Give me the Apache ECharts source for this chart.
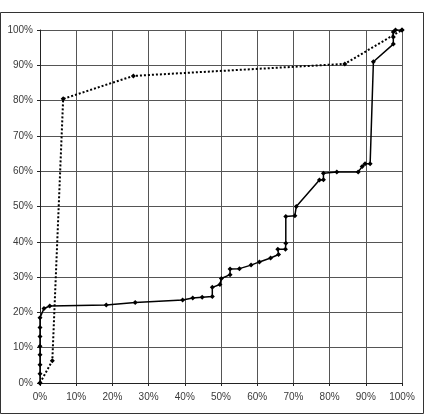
<!DOCTYPE html>
<html>
<head>
<meta charset="utf-8">
<script src="https://cdn.jsdelivr.net/npm/echarts@6/dist/echarts.min.js"></script>
<style>
    html, body { margin: 0; padding: 0; background: #fff; }
    #js-chart { width: 426px; height: 420px; }
</style>
</head>
<body>
<div id="js-chart"></div>
<script>
/*data (percent)*/
var solidX = [0, 0, 0, 0, 0, 0, 0, 0, 1.1, 2.7, 18.3, 26.3, 39.4, 42.2, 44.8, 47.6, 47.6, 49.7, 50.1, 52.5, 52.5,
    55.1, 58.3, 60.6, 63.7, 65.9, 65.7, 67.8, 67.9, 67.9, 70.4, 70.8, 77.2, 78.3, 78.3, 82.0, 87.9, 89.0, 89.8,
    91.2, 92.1, 97.6, 97.6, 97.6, 98.2, 100];
var solidY = [0, 2.6, 5.2, 8.0, 10.4, 13.2, 15.7, 18.5, 21.1, 21.8, 22.1, 22.8, 23.5, 24.1, 24.3, 24.5, 27.1, 27.9, 29.6, 30.7, 32.3,
    32.4, 33.4, 34.3, 35.4, 36.4, 37.9, 37.9, 39.6, 47.2, 47.4, 50.0, 57.5, 57.6, 59.4, 59.8, 59.8, 61.3, 62.1,
    62.1, 91.0, 96.0, 98.0, 99.4, 100, 100];
var dottedX = [0, 3.4, 6.4, 25.8, 84.2, 100];
var dottedY = [0, 6.3, 80.5, 87.0, 90.4, 100];

function pairs(xs, ys) {
    var out = [];
    for (var i = 0; i < xs.length; i++) {
        out.push([xs[i], ys[i]]);
    }
    return out;
}

var chart = echarts.init(document.getElementById('js-chart'));
var axisText = {
    fontFamily: 'Liberation Sans',
    fontSize: 10,
    color: '#3a3a3a',
    formatter: '{value}%'
};
var option = {
    animation: false,
    graphic: [{
        type: 'rect',
        shape: { x: 0.5, y: 12.5, width: 423, height: 401 },
        style: { fill: 'none', stroke: '#333', lineWidth: 1 }
    }],
    grid: {
        left: 40,
        top: 30,
        right: 24,
        bottom: 37
    },
    xAxis: {
        type: 'value',
        min: 0,
        max: 100,
        interval: 10,
        axisLine: { lineStyle: { color: '#222', width: 1 } },
        axisTick: { show: true, length: 3, lineStyle: { color: '#222' } },
        axisLabel: Object.assign({ margin: 9 }, axisText),
        splitLine: { show: true, lineStyle: { color: '#555', width: 1 } }
    },
    yAxis: {
        type: 'value',
        min: 0,
        max: 100,
        interval: 10,
        axisLine: { show: true, lineStyle: { color: '#222', width: 1 } },
        axisTick: { show: true, length: 3, lineStyle: { color: '#222' } },
        axisLabel: Object.assign({ margin: 7 }, axisText),
        splitLine: { show: true, lineStyle: { color: '#555', width: 1 } }
    },
    series: [{
        name: 'dotted',
        type: 'line',
        data: pairs(dottedX, dottedY),
        symbol: 'diamond',
        symbolSize: 5,
        itemStyle: { color: '#000' },
        lineStyle: { color: '#000', width: 2, type: [2, 2] }
    }, {
        name: 'solid',
        type: 'line',
        data: pairs(solidX, solidY),
        symbol: 'diamond',
        symbolSize: 5,
        itemStyle: { color: '#000' },
        lineStyle: { color: '#000', width: 1.5 }
    }]
};
chart.setOption(option);
</script>
</body>
</html>
